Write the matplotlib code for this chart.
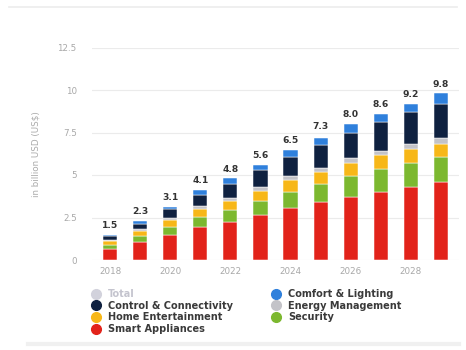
import matplotlib
matplotlib.use("Agg")
import matplotlib.pyplot as plt
from matplotlib.lines import Line2D
import numpy as np

# Smart home market revenue by segment, in billion USD
years = [2018, 2019, 2020, 2021, 2022, 2023, 2024, 2025, 2026, 2027, 2028, 2029]
smart_appliances = [0.65, 1.05, 1.45, 1.95, 2.25, 2.65, 3.05, 3.40, 3.70, 4.00, 4.30, 4.60]
security = [0.25, 0.35, 0.50, 0.60, 0.70, 0.80, 0.95, 1.10, 1.25, 1.35, 1.40, 1.45]
home_entertainment = [0.20, 0.30, 0.40, 0.45, 0.55, 0.60, 0.70, 0.70, 0.75, 0.80, 0.85, 0.80]
energy_management = [0.08, 0.10, 0.15, 0.20, 0.15, 0.25, 0.25, 0.20, 0.30, 0.25, 0.30, 0.30]
control_connectivity = [0.22, 0.30, 0.50, 0.60, 0.85, 1.00, 1.10, 1.35, 1.50, 1.70, 1.85, 2.00]
comfort_lighting = [0.10, 0.20, 0.10, 0.30, 0.30, 0.30, 0.45, 0.45, 0.50, 0.50, 0.50, 0.65]
totals = [1.5, 2.3, 3.1, 4.1, 4.8, 5.6, 6.5, 7.3, 8.0, 8.6, 9.2, 9.8]
year_ticks = [2018, 2020, 2022, 2024, 2026, 2028]
y_ticks = [0, 2.5, 5, 7.5, 10, 12.5]
y_tick_labels = ["0", "2.5", "5", "7.5", "10", "12.5"]

segments = [
    ("Smart Appliances", smart_appliances, "#e2231a"),
    ("Security", security, "#7cb82f"),
    ("Home Entertainment", home_entertainment, "#f7b718"),
    ("Energy Management", energy_management, "#c3c3c8"),
    ("Control & Connectivity", control_connectivity, "#0f2140"),
    ("Comfort & Lighting", comfort_lighting, "#2f80dc"),
]
colors = {name: c for name, _, c in segments}
colors["Total"] = "#d2d2dc"

W, H = 466, 350
fig = plt.figure(figsize=(W / 100, H / 100), dpi=100)
fig.patch.set_facecolor("white")

ax = fig.add_axes([92 / W, (H - 260) / H, 367 / W, 212.5 / H])
x = np.arange(len(years))
bottom = np.zeros(len(years))
for name, vals, col in segments:
    v = np.array(vals)
    ax.bar(x, v, width=0.47, bottom=bottom, color=col, edgecolor="white",
           linewidth=0.35, zorder=3)
    bottom += v

for xi, t in zip(x, totals):
    ax.annotate(f"{t:.1f}", (xi, t), xytext=(0, 3.5), textcoords="offset points",
                ha="center", va="bottom", fontsize=6.6, fontweight="bold",
                color="#333333", zorder=4)

ax.set_xlim(-0.6, len(years) - 0.4)
ax.set_ylim(0, 12.5)
ax.set_yticks(y_ticks)
ax.set_yticklabels(y_tick_labels)
ax.set_xticks([years.index(y) for y in year_ticks])
ax.set_xticklabels([str(y) for y in year_ticks])
ax.grid(axis="y", color="#ebebeb", linewidth=0.8, zorder=0)
ax.tick_params(axis="both", length=0, labelsize=6.3, labelcolor="#a8a8a8")
ax.tick_params(axis="y", pad=11)
ax.tick_params(axis="x", pad=5)
for s in ax.spines.values():
    s.set_visible(False)
ax.set_ylabel("in billion USD (US$)", fontsize=6.3, color="#aaaaaa", labelpad=12)

legend_order = ["Total", "Control & Connectivity", "Home Entertainment", "Smart Appliances",
                "Comfort & Lighting", "Energy Management", "Security"]
handles = [Line2D([], [], linestyle="none", marker="o", markersize=7,
                  markerfacecolor=colors[n], markeredgecolor=colors[n]) for n in legend_order]
leg = fig.legend(handles, legend_order, loc="upper left",
                 bbox_to_anchor=(91 / W, (H - 289) / H), ncol=2, frameon=False,
                 fontsize=7, borderpad=0, borderaxespad=0, handlelength=1.0,
                 handletextpad=0.7, columnspacing=4.0, labelspacing=0.17)
for txt, name in zip(leg.get_texts(), legend_order):
    txt.set_fontweight("bold")
    txt.set_color("#c4c4ce" if name == "Total" else "#3a3a3a")

# thin frame lines of the card
fig.add_artist(Line2D([0.02, 0.98], [(H - 7) / H] * 2, color="#ececec", linewidth=1.2))
fig.add_artist(Line2D([0.06, 0.985], [(H - 344) / H] * 2, color="#f0f0f0", linewidth=3))

fig.savefig("out.png", dpi=100, facecolor="white")
